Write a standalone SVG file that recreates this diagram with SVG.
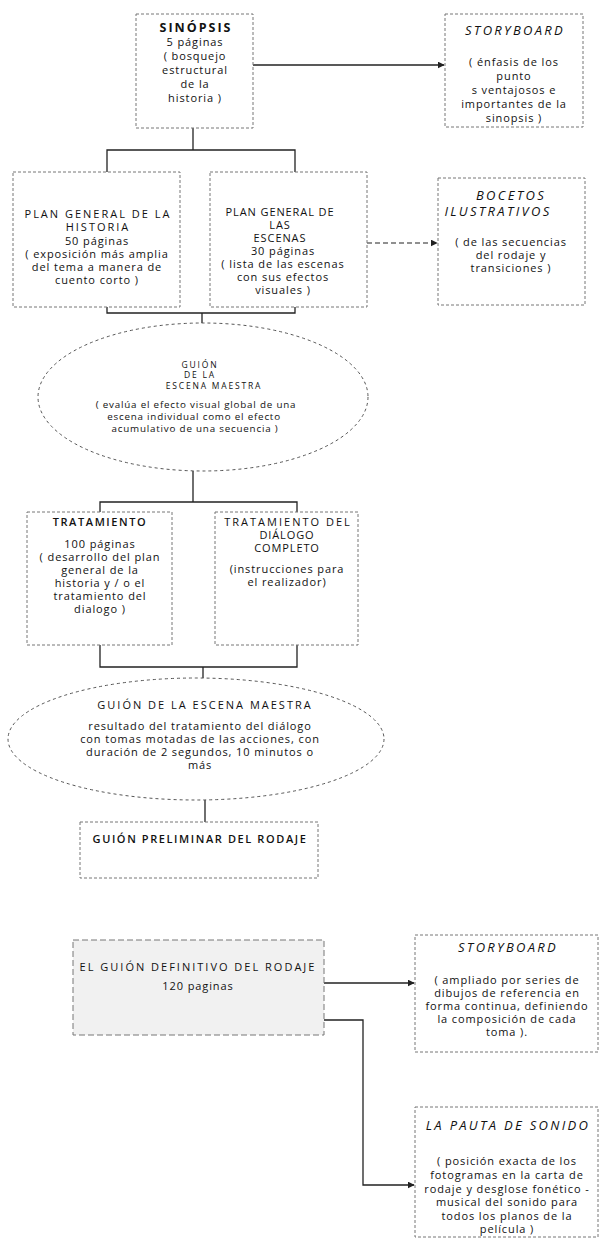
<svg xmlns="http://www.w3.org/2000/svg" width="604" height="1239" viewBox="0 0 604 1239">
<defs>
<marker id="ah" viewBox="0 0 10 10" refX="9" refY="5" markerWidth="7" markerHeight="7" orient="auto" markerUnits="userSpaceOnUse">
<path d="M0,0 L10,5 L0,10 z" fill="#222"/>
</marker>
<style>
.box{fill:#fff;stroke:#777;stroke-width:1;stroke-dasharray:3 2}
.gbox{fill:#f1f1f1;stroke:#777;stroke-width:1;stroke-dasharray:6 3}
.ell{fill:none;stroke:#555;stroke-width:1;stroke-dasharray:3 3}
.con{fill:none;stroke:#222;stroke-width:1.3}
.dcon{fill:none;stroke:#222;stroke-width:1.2;stroke-dasharray:5 3}
text{font-family:"Open Sans","DejaVu Sans",sans-serif;fill:#111;text-anchor:middle}
.t{font-size:11px;letter-spacing:0.9px}
.s{font-size:9.8px;letter-spacing:0.8px}
.h{font-size:11px;letter-spacing:2px}
.hn{font-size:11px;letter-spacing:0.9px}
.b{font-weight:bold;font-size:12.5px;letter-spacing:2px}
.sb{font-weight:600;font-size:11px;letter-spacing:1.6px}
.it{font-style:italic;font-size:13px;letter-spacing:2.3px}
.xs{font-size:8.5px;letter-spacing:1.8px}
</style>
</defs>

<g id="connectors">
<line class="con" x1="253" y1="65" x2="444" y2="65" marker-end="url(#ah)"/>
<polyline class="con" points="193,128 193,150"/>
<polyline class="con" points="107,172 107,150 295,150 295,172"/>
<line class="dcon" x1="367" y1="243" x2="437" y2="243" marker-end="url(#ah)"/>
<polyline class="con" points="107,307 107,313 295,313 295,307"/>
<line class="con" x1="202" y1="313" x2="202" y2="323"/>
<line class="con" x1="193" y1="471" x2="193" y2="502"/>
<polyline class="con" points="100,512 100,502 297,502 297,512"/>
<polyline class="con" points="100,645 100,667 297,667 297,645"/>
<line class="con" x1="203" y1="667" x2="203" y2="678"/>
<line class="con" x1="205" y1="800" x2="205" y2="822"/>
<line class="con" x1="324" y1="983" x2="414" y2="983" marker-end="url(#ah)"/>
<polyline class="con" points="324,1020 363,1020 363,1185 414,1185" marker-end="url(#ah)"/>
</g>

<g id="sinopsis">
<rect class="box" x="136" y="14" width="117" height="114"/>
<text class="b" x="196" y="32">SINÓPSIS</text>
<text class="t" x="195" y="46">5 páginas</text>
<text class="t" x="195" y="60">( bosquejo</text>
<text class="t" x="195" y="74">estructural</text>
<text class="t" x="195" y="88">de la</text>
<text class="t" x="195" y="102">historia )</text>
</g>

<g id="storyboard1">
<rect class="box" x="445" y="14" width="138" height="113"/>
<text class="it" x="515" y="35">STORYBOARD</text>
<text class="t" x="514" y="66">( énfasis de los</text>
<text class="t" x="514" y="80">punto</text>
<text class="t" x="514" y="94">s ventajosos e</text>
<text class="t" x="514" y="108">importantes de la</text>
<text class="t" x="514" y="122">sinopsis )</text>
</g>

<g id="plan-historia">
<rect class="box" x="13" y="172" width="167" height="135"/>
<text class="h" x="98" y="218">PLAN GENERAL DE LA</text>
<text class="h" x="98" y="231">HISTORIA</text>
<text class="t" x="97" y="245">50 páginas</text>
<text class="t" x="97" y="258">( exposición más amplia</text>
<text class="t" x="97" y="271">del tema a manera de</text>
<text class="t" x="97" y="284">cuento corto )</text>
</g>

<g id="plan-escenas">
<rect class="box" x="210" y="172" width="157" height="135"/>
<text class="hn" x="280" y="216">PLAN GENERAL DE</text>
<text class="hn" x="280" y="229">LAS</text>
<text class="hn" x="280" y="242">ESCENAS</text>
<text class="t" x="283" y="255">30 páginas</text>
<text class="t" x="283" y="268">( lista de las escenas</text>
<text class="t" x="283" y="281">con sus efectos</text>
<text class="t" x="283" y="294">visuales )</text>
</g>

<g id="bocetos">
<rect class="box" x="438" y="178" width="147" height="127"/>
<text class="it" x="511" y="200">BOCETOS</text>
<text class="it" x="498" y="216">ILUSTRATIVOS</text>
<text class="t" x="511" y="246">( de las secuencias</text>
<text class="t" x="511" y="259">del rodaje y</text>
<text class="t" x="511" y="272">transiciones )</text>
</g>

<g id="guion-escena-1">
<ellipse class="ell" cx="203" cy="397" rx="165" ry="74"/>
<text class="xs" x="200" y="368">GUIÓN</text>
<text class="xs" x="200" y="378">DE LA</text>
<text class="xs" x="214" y="389">ESCENA MAESTRA</text>
<text class="s" x="196" y="408">( evalúa el efecto visual global de una</text>
<text class="s" x="194" y="420">escena individual como el efecto</text>
<text class="s" x="195" y="432">acumulativo de una secuencia )</text>
</g>

<g id="tratamiento">
<rect class="box" x="27" y="512" width="145" height="133"/>
<text class="sb" x="100" y="526">TRATAMIENTO</text>
<text class="t" x="100" y="548">100 páginas</text>
<text class="t" x="100" y="561">( desarrollo del plan</text>
<text class="t" x="100" y="574">general de la</text>
<text class="t" x="100" y="587">historia y / o el</text>
<text class="t" x="100" y="600">tratamiento del</text>
<text class="t" x="100" y="613">dialogo )</text>
</g>

<g id="tratamiento-dialogo">
<rect class="box" x="215" y="512" width="143" height="133"/>
<text class="h" x="288" y="526">TRATAMIENTO DEL</text>
<text class="hn" x="287" y="539">DIÁLOGO</text>
<text class="hn" x="287" y="552">COMPLETO</text>
<text class="t" x="287" y="573">(instrucciones para</text>
<text class="t" x="287" y="586">el realizador)</text>
</g>

<g id="guion-escena-2">
<ellipse class="ell" cx="196" cy="739" rx="188" ry="61"/>
<text class="h" x="205" y="709">GUIÓN DE LA ESCENA MAESTRA</text>
<text class="t" x="200" y="730">resultado del tratamiento del diálogo</text>
<text class="t" x="200" y="743">con tomas motadas de las acciones, con</text>
<text class="t" x="200" y="756">duración de 2 segundos, 10 minutos o</text>
<text class="t" x="200" y="769">más</text>
</g>

<g id="guion-preliminar">
<rect class="box" x="80" y="822" width="238" height="56"/>
<text class="sb" x="200" y="843">GUIÓN PRELIMINAR DEL RODAJE</text>
</g>

<g id="guion-definitivo">
<rect class="gbox" x="73" y="940" width="251" height="95"/>
<text class="h" x="198" y="971">EL GUIÓN DEFINITIVO DEL RODAJE</text>
<text class="t" x="198" y="990">120 paginas</text>
</g>

<g id="storyboard2">
<rect class="box" x="415" y="935" width="183" height="117"/>
<text class="it" x="508" y="952">STORYBOARD</text>
<text class="t" x="507" y="984">( ampliado por series de</text>
<text class="t" x="507" y="997">dibujos de referencia en</text>
<text class="t" x="507" y="1010">forma continua, definiendo</text>
<text class="t" x="507" y="1023">la composición de cada</text>
<text class="t" x="507" y="1036">toma ).</text>
</g>

<g id="pauta-sonido">
<rect class="box" x="415" y="1107" width="183" height="130"/>
<text class="it" x="508" y="1130">LA PAUTA DE SONIDO</text>
<text class="t" x="507" y="1165">( posición exacta de los</text>
<text class="t" x="507" y="1179">fotogramas en la carta de</text>
<text class="t" x="507" y="1193">rodaje y desglose fonético -</text>
<text class="t" x="507" y="1206">musical del sonido para</text>
<text class="t" x="507" y="1220">todos los planos  de la</text>
<text class="t" x="507" y="1233">película )</text>
</g>
</svg>
